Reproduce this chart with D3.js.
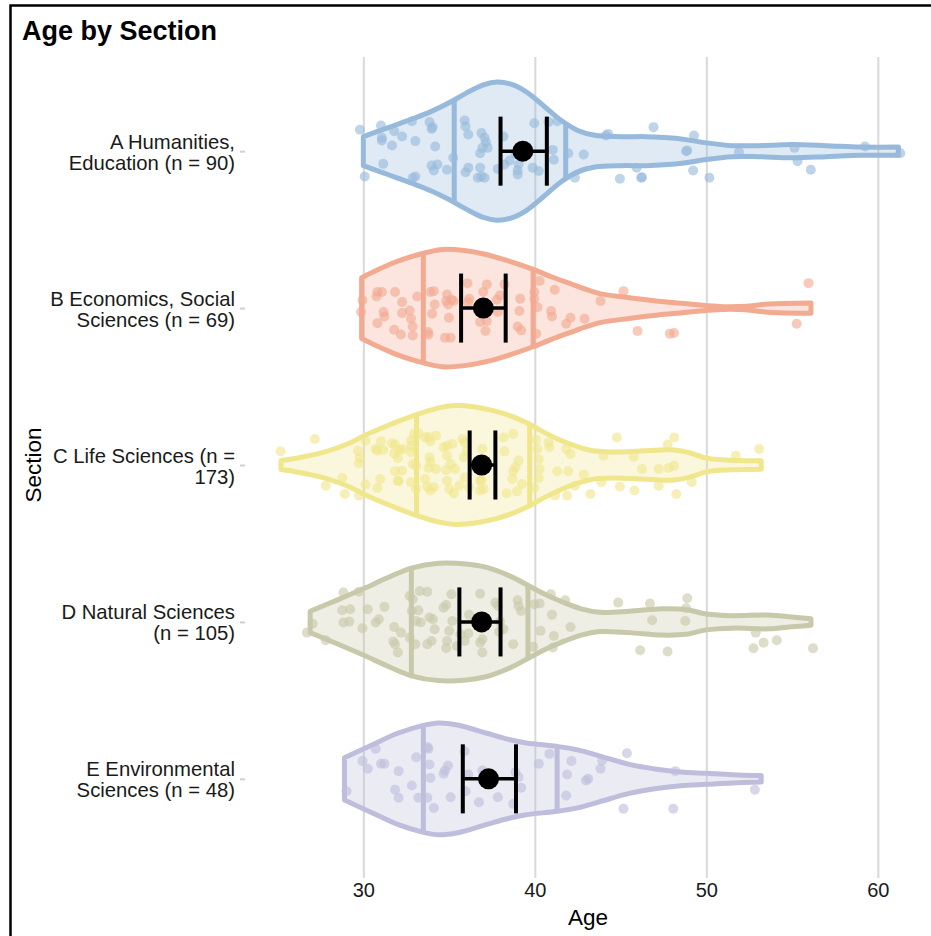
<!DOCTYPE html>
<html>
<head>
<meta charset="utf-8">
<script src="https://cdn.jsdelivr.net/npm/d3@7"></script>
<style>
  body { margin: 0; background: #fff; }
  text { font-family: "Liberation Sans", Arial, Helvetica, sans-serif; }
</style>
</head>
<body>
<svg id="chart" width="931" height="936"></svg>
<script>
// data
const sections = ["A", "B", "C", "D", "E"];
const sectionLabels = [
  ["A Humanities,", "Education (n = 90)"],
  ["B Economics, Social", "Sciences (n = 69)"],
  ["C Life Sciences (n =", "173)"],
  ["D Natural Sciences", "(n = 105)"],
  ["E Environmental", "Sciences (n = 48)"]
];
const lineColors = ["#96b9dc", "#f2aa91", "#f0e68c", "#c8c8aa", "#bebedc"];
const xTicks = [30, 40, 50, 60];

// violin outlines: [age, relative half width]
const violinA = [[30,0.21],[31,0.3],[32,0.39],[33,0.48],[34,0.58],[35,0.7],[36,0.84],[37,0.96],[37.8,1.0],[38.6,0.97],[39.5,0.86],[40.5,0.66],[41.5,0.45],[42.5,0.3],[43.5,0.23],[45,0.21],[46.5,0.21],[48,0.19],[49,0.16],[50,0.12],[51.5,0.08],[53,0.08],[55,0.095],[57,0.08],[59,0.06],[61.2,0.06]];
const violinB = [[29.9,0.44],[30.8,0.55],[31.8,0.66],[33,0.76],[34.6,0.85],[36,0.83],[37.1,0.78],[38.5,0.68],[39.9,0.56],[41,0.45],[42,0.36],[43,0.27],[43.8,0.21],[45.5,0.15],[47.2,0.1],[48.5,0.07],[50,0.035],[51,0.02],[52.3,0.025],[53.6,0.06],[56.1,0.075]];
const violinC = [[25.2,0.066],[25.9,0.09],[26.7,0.13],[27.6,0.18],[28.5,0.25],[29.3,0.33],[30,0.42],[31.5,0.58],[33.1,0.73],[34.3,0.82],[35.4,0.86],[36.5,0.84],[37.7,0.78],[38.7,0.7],[39.7,0.59],[40.5,0.48],[41.3,0.38],[42.3,0.28],[43.3,0.21],[44.5,0.19],[45.9,0.2],[47,0.215],[48,0.22],[49,0.18],[50,0.1],[51.5,0.07],[53.2,0.06]];
const violinD = [[26.9,0.155],[28.5,0.32],[30,0.48],[31.5,0.65],[32.8,0.78],[34.4,0.85],[36,0.84],[37.2,0.79],[38.5,0.67],[39.6,0.53],[40.5,0.41],[41.5,0.3],[42.7,0.19],[43.8,0.14],[45.5,0.155],[47.4,0.19],[48.8,0.18],[50,0.115],[51.5,0.09],[53.6,0.1],[55,0.07],[56.1,0.047]];
const violinE = [[28.9,0.305],[30.5,0.49],[32,0.66],[33.5,0.775],[34.4,0.81],[35.5,0.78],[37.2,0.66],[38.5,0.57],[39.5,0.52],[41.3,0.47],[42.5,0.42],[43.8,0.33],[45.5,0.21],[47.1,0.14],[48.5,0.1],[50,0.08],[51.5,0.06],[53.2,0.047]];

// 25% / 75% quantile lines
const quartiles = [[35.3, 41.8], [33.5, 39.9], [33.1, 39.7], [32.8, 39.6], [33.5, 41.3]];
// mean and confidence interval
const means = [39.3, 37.0, 36.9, 36.9, 37.3];
const ciLow = [38.0, 35.7, 36.2, 35.6, 35.8];
const ciHigh = [40.7, 38.3, 37.7, 38.0, 38.9];

// jittered points: [age, vertical jitter in category units]
const pointsA = [[29.8,-0.136],[31.03,-0.163],[31.08,-0.085],[31.08,-0.068],[31.8,-0.127],[32.26,-0.093],[31.67,-0.036],[32.83,-0.191],[33.03,-0.064],[33.86,-0.185],[34.04,-0.153],[33.98,-0.142],[34.19,-0.03],[31.16,0.081],[30.08,0.161],[32.88,0.17],[33.03,0.161],[33.98,0.091],[34.11,0.123],[34.32,0.085],[34.88,0.119],[35.24,0.042],[35.91,-0.195],[35.96,-0.157],[36.12,-0.106],[36.89,-0.115],[37.07,-0.085],[37.15,-0.057],[36.94,-0.021],[37.25,-0.021],[36.81,0.013],[36.12,0.106],[35.96,0.134],[36.81,0.106],[36.89,0.161],[37.07,0.17],[36.68,0.17],[37.84,0.113],[38.17,-0.093],[38.23,0.085],[39.0,0.123],[39.0,0.149],[38.53,0.059],[38.87,0.017],[39.05,0.085],[39.87,0.106],[39.97,-0.178],[40.23,0.127],[40.8,-0.185],[41.05,-0.008],[41.11,0.055],[41.31,-0.191],[41.95,0.013],[42.34,0.17],[42.85,0.021],[44.14,-0.1],[44.27,-0.11],[44.96,0.176],[45.94,0.106],[46.2,0.17],[46.25,0.166],[46.92,-0.153],[48.82,0],[48.89,-0.004],[49.23,0.123],[49.28,-0.1],[50.18,0.17],[51.9,0.006],[55.14,-0.021],[55.32,0.064],[56.09,0.119],[59.25,-0.03],[61.31,0.013]];
const pointsB = [[29.95,-0.049],[29.87,0.025],[30.82,-0.102],[30.77,-0.074],[31.08,-0.102],[31.85,-0.102],[32.26,-0.038],[33.14,-0.074],[33.91,-0.102],[34.11,-0.108],[34.88,-0.087],[34.83,-0.045],[35.14,-0.053],[34.94,-0.023],[35.27,-0.045],[34.16,-0.023],[31.18,0.025],[31.23,0.053],[30.82,0.096],[32.26,0.032],[32.7,0.015],[32.78,0.068],[32.88,0.117],[31.8,0.138],[32.19,0.168],[32.88,0.174],[33.8,0.168],[33.78,0.153],[34.01,0.036],[34.99,0.062],[34.76,0.189],[35.09,0.189],[36.07,-0.159],[37.2,-0.151],[36.99,-0.102],[36.17,-0.059],[36.12,-0.038],[38.23,-0.151],[37.97,-0.081],[37.79,-0.053],[37.84,0.025],[37.2,0.083],[36.81,0.089],[37.12,0.146],[39.15,-0.059],[39.1,0.019],[39.0,0.117],[39.2,0.142],[39.97,-0.102],[40.28,-0.172],[39.97,-0.059],[40.15,-0.006],[41.16,-0.117],[40.95,0.019],[41.0,0.053],[40.08,0.163],[41.83,0.1],[42.08,0.062],[42.9,0.068],[43.83,-0.045],[45.17,-0.108],[45.99,0.146],[47.87,0.163],[48.12,0.159],[55.27,0.1],[55.96,-0.159]];
const pointsC = [[25.17,-0.087],[27.17,-0.166],[27.81,0.132],[28.92,0.185],[28.77,0.083],[29.74,0.195],[29.69,-0.091],[29.79,-0.045],[29.74,-0.011],[30.13,-0.155],[30.13,0.125],[30.98,0.089],[31.03,-0.151],[30.82,-0.091],[30.72,-0.102],[31.16,-0.096],[30.82,0.146],[31.67,-0.138],[31.8,-0.074],[31.85,-0.13],[32.01,-0.045],[32.11,-0.096],[32.31,-0.102],[31.85,0.04],[32.01,0.1],[32.26,0.036],[32.06,0.104],[32.78,-0.155],[32.83,-0.123],[32.96,-0.197],[32.78,-0.081],[32.88,-0.006],[33.08,0.004],[32.78,0.11],[33.08,0.153],[33.21,-0.202],[33.6,-0.176],[33.8,-0.18],[33.91,-0.151],[34.24,-0.187],[33.86,-0.049],[33.91,-0.017],[33.8,0.019],[34.24,0.025],[33.6,0.089],[33.73,0.138],[33.91,0.163],[34.11,0.142],[34.68,-0.113],[34.88,-0.123],[35.19,-0.134],[34.88,-0.059],[35.09,-0.006],[34.83,0.032],[34.88,0.1],[35.35,0.025],[35.01,0.153],[35.27,0.18],[35.6,0.132],[35.78,-0.166],[35.91,-0.144],[36.04,-0.091],[35.86,-0.049],[35.91,0.079],[36.17,0.142],[36.94,-0.102],[36.99,-0.017],[36.81,0.1],[36.81,0.163],[37.02,0.153],[36.89,0.096],[38.17,-0.176],[38.23,-0.087],[38.74,-0.197],[39.05,-0.028],[38.87,0.015],[38.74,0.04],[38.69,0.089],[39.25,0.121],[38.95,0.168],[38.35,0.18],[40.08,-0.159],[40.15,-0.102],[40.23,-0.038],[40.28,0.025],[40.23,0.083],[39.97,0.146],[40.8,-0.144],[40.85,-0.113],[41.31,0.04],[41.95,0.04],[41.83,-0.102],[42.08,-0.07],[42.85,0.062],[42.34,0.132],[41.88,0.195],[41.18,0.195],[43.24,0.185],[44.01,-0.059],[43.88,0.11],[44.78,-0.176],[44.96,0.138],[45.81,0.163],[45.76,-0.053],[46.25,0.025],[47.22,0.025],[47.22,0.132],[47.79,0.019],[48.12,0.004],[47.74,-0.13],[48.12,-0.176],[48.25,0.185],[49.15,0.11],[51.72,-0.059],[53.08,-0.102]];
const pointsD = [[26.71,0.068],[27.04,0.011],[27.81,0.117],[28.84,-0.187],[29.74,-0.193],[28.77,-0.074],[29.23,-0.081],[28.84,0.004],[29.18,-0.002],[29.95,0.04],[30.26,-0.081],[30.72,0.004],[31.23,-0.096],[30.9,-0.017],[31.8,0.032],[31.85,0.142],[32.01,0.195],[32.19,0.068],[31.75,0.125],[32.7,-0.166],[32.88,-0.144],[33.29,-0.197],[33.73,-0.193],[32.83,-0.07],[33.21,-0.074],[33.08,-0.006],[33.34,0.004],[32.7,0.1],[33.03,0.142],[33.73,0.142],[33.98,0.121],[34.16,0.047],[33.86,-0.028],[34.06,-0.017],[34.68,-0.091],[34.83,-0.108],[35.14,-0.176],[35.19,-0.006],[35.01,0.057],[34.88,0.121],[34.83,0.168],[35.45,0.153],[35.66,0.079],[35.91,0.121],[36.17,-0.045],[36.12,0.074],[36.81,-0.18],[36.94,0.11],[36.94,0.195],[36.81,0.132],[37.71,-0.123],[37.84,-0.102],[38.17,0.047],[37.92,0.062],[37.97,-0.002],[38.74,0.142],[39.0,-0.138],[39.05,-0.102],[39.2,-0.07],[39.97,-0.113],[40.28,-0.117],[39.9,0.159],[40.33,0.057],[41.0,-0.045],[41.11,0.089],[41.05,0.163],[40.93,-0.176],[41.77,-0.138],[42.08,0.032],[44.86,-0.123],[46.71,-0.117],[46.84,-0.011],[46.14,0.18],[47.74,0.189],[48.77,-0.006],[48.89,-0.151],[48.82,-0.087],[52.75,0.168],[53.34,0.132],[54.11,0.117],[52.88,0.068],[56.22,0.168]];
const pointsE = [[29.02,0.079],[29.95,-0.113],[30.26,-0.064],[30.72,-0.191],[31.03,-0.096],[31.23,-0.096],[32.06,-0.049],[31.85,0.07],[32.06,0.121],[32.83,0.042],[33.08,-0.138],[33.21,0.121],[33.73,0.121],[33.73,-0.202],[33.8,-0.191],[33.86,-0.091],[33.91,-0.006],[34.11,0.185],[34.68,-0.032],[34.76,-0.053],[34.94,-0.085],[35.09,0.117],[35.91,-0.176],[35.96,0.079],[36.12,-0.028],[36.74,0.149],[36.94,-0.053],[37.84,0.117],[38.74,0.159],[38.87,-0.042],[39.05,-0.011],[39.2,0.057],[40.23,-0.096],[40.85,-0.159],[41.88,-0.028],[41.83,0.106],[42.13,-0.113],[42.98,0.011],[43.11,0],[43.83,-0.064],[43.93,-0.117],[45.17,0.191],[45.37,-0.163],[48.07,0.191],[48.2,-0.049],[52.83,0.07]];

const violins = [violinA, violinB, violinC, violinD, violinE];
const points = [pointsA, pointsB, pointsC, pointsD, pointsE];

// layout
const width = 931;
const height = 936;
const margin = { top: 57, left: 245, right: 0, bottom: 63 };

const svg = d3.select("#chart");

svg.append("rect")
  .attr("width", width).attr("height", height)
  .attr("fill", "#fff");

// frame of the figure panel
svg.append("rect")
  .attr("x", 10.5).attr("y", 5.5)
  .attr("width", width + 10).attr("height", height + 10)
  .attr("fill", "none")
  .attr("stroke", "#000")
  .attr("stroke-width", 2.5);

const x = d3.scaleLinear()
  .domain([23.1, 63.1])
  .range([margin.left, width - margin.right]);

const y = d3.scalePoint()
  .domain(sections)
  .range([margin.top, height - margin.bottom])
  .padding(0.6);

const w = d3.scaleLinear()
  .domain([0, 1])
  .range([0, y.step() * 0.44]);

const panelBottom = height - margin.bottom;

// vertical grid lines
const grid = svg.append("g")
  .attr("transform", "translate(0," + margin.top + ")")
  .call(d3.axisBottom(x).tickValues(xTicks).tickSize(panelBottom - margin.top + 5).tickFormat(""));
grid.select(".domain").remove();
grid.selectAll("line").attr("stroke", "#d9d9d9").attr("stroke-width", 2);

// x axis labels
const xAxis = svg.append("g")
  .attr("transform", "translate(0," + panelBottom + ")")
  .call(d3.axisBottom(x).tickValues(xTicks).tickSize(0).tickPadding(10));
xAxis.select(".domain").remove();
xAxis.selectAll("text")
  .attr("font-size", 20)
  .attr("fill", "#1a1a1a")
  .attr("font-family", "Liberation Sans, Arial, sans-serif");

// y axis with two-line labels
const yAxis = svg.append("g")
  .attr("transform", "translate(" + margin.left + ",0)")
  .call(d3.axisLeft(y).tickSize(5).tickPadding(10));
yAxis.select(".domain").remove();
yAxis.selectAll("line").attr("stroke", "#d0d0d0").attr("stroke-width", 2);
yAxis.selectAll("text")
  .attr("font-size", 20.3)
  .attr("fill", "#1a1a1a")
  .attr("font-family", "Liberation Sans, Arial, sans-serif")
  .attr("dy", null)
  .text(null)
  .each(function(d) {
    const lines = sectionLabels[sections.indexOf(d)];
    const t = d3.select(this);
    lines.forEach((line, i) => {
      t.append("tspan")
        .attr("x", -10)
        .attr("y", i === 0 ? -3 : 18)
        .text(line);
    });
  });

// violins
const area = d3.area()
  .curve(d3.curveCatmullRom.alpha(0.5));

function widthAt(profile, age) {
  const i = d3.bisector(d => d[0]).left(profile, age);
  if (i <= 0) return profile[0][1];
  if (i >= profile.length) return profile[profile.length - 1][1];
  const a = profile[i - 1], b = profile[i];
  const t = (age - a[0]) / (b[0] - a[0]);
  return a[1] + t * (b[1] - a[1]);
}

sections.forEach((s, k) => {
  const cy = y(s);
  const g = svg.append("g");
  area
    .x(d => x(d[0]))
    .y0(d => cy - w(d[1]))
    .y1(d => cy + w(d[1]));

  g.append("path")
    .attr("d", area(violins[k]))
    .attr("fill", lineColors[k])
    .attr("fill-opacity", 0.3)
    .attr("stroke", lineColors[k])
    .attr("stroke-width", 5)
    .attr("stroke-linejoin", "round");

  g.selectAll("line.q")
    .data(quartiles[k])
    .enter()
    .append("line")
    .attr("class", "q")
    .attr("x1", d => x(d)).attr("x2", d => x(d))
    .attr("y1", d => cy - w(widthAt(violins[k], d)))
    .attr("y2", d => cy + w(widthAt(violins[k], d)))
    .attr("stroke", lineColors[k])
    .attr("stroke-width", 5);

  g.selectAll("circle.pt")
    .data(points[k])
    .enter()
    .append("circle")
    .attr("class", "pt")
    .attr("cx", d => x(d[0]))
    .attr("cy", d => cy + d[1] * y.step())
    .attr("r", 5)
    .attr("fill", lineColors[k])
    .attr("fill-opacity", 0.62);
});

// means with confidence intervals
sections.forEach((s, k) => {
  const cy = y(s);
  const barHalf = y.step() * 0.22;
  const g = svg.append("g");
  g.append("line")
    .attr("x1", x(ciLow[k])).attr("x2", x(ciHigh[k]))
    .attr("y1", cy).attr("y2", cy)
    .attr("stroke", "#000").attr("stroke-width", 3.5);
  [ciLow[k], ciHigh[k]].forEach(v => {
    g.append("line")
      .attr("x1", x(v)).attr("x2", x(v))
      .attr("y1", cy - barHalf).attr("y2", cy + barHalf)
      .attr("stroke", "#000").attr("stroke-width", 4);
  });
  g.append("circle")
    .attr("cx", x(means[k])).attr("cy", cy)
    .attr("r", 10.5)
    .attr("fill", "#000");
});

// titles
svg.append("text")
  .attr("x", 22).attr("y", 40)
  .attr("font-size", 27)
  .attr("font-weight", "bold")
  .attr("fill", "#000")
  .text("Age by Section");

svg.append("text")
  .attr("x", x(43.1)).attr("y", 925)
  .attr("text-anchor", "middle")
  .attr("font-size", 22.5)
  .attr("fill", "#000")
  .text("Age");

svg.append("text")
  .attr("transform", "translate(41," + y("C") + ") rotate(-90)")
  .attr("text-anchor", "middle")
  .attr("font-size", 22.5)
  .attr("fill", "#000")
  .text("Section");
</script>
</body>
</html>
